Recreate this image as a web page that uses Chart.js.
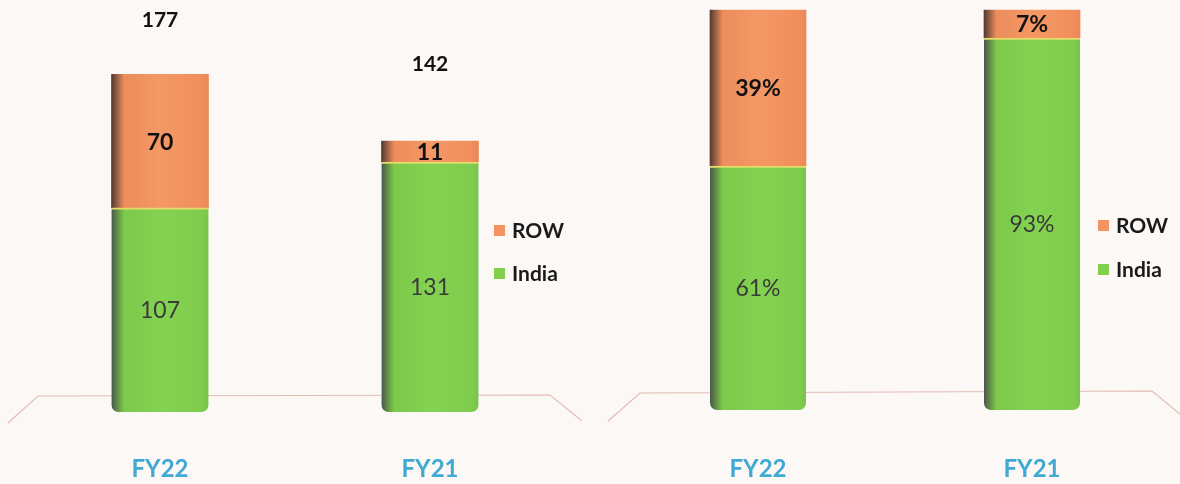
<!DOCTYPE html>
<html>
<head>
<meta charset="utf-8">
<script src="https://cdn.jsdelivr.net/npm/chart.js@4.4.0/dist/chart.umd.min.js"></script>
<style>
  html, body { margin: 0; padding: 0; background: #fbf8f6; }
  #wrap { display: flex; width: 1180px; height: 484px; }
  .box { position: relative; height: 484px; }
</style>
</head>
<body>
<div id="wrap">
  <div class="box" style="width:600px"><canvas id="graph1"></canvas></div>
  <div class="box" style="width:580px"><canvas id="graph2"></canvas></div>
</div>
<script>
// data
var years = ['FY22', 'FY21'];
var indiaValues = [107, 131];
var rowValues = [70, 11];
var totalValues = [177, 142];
var indiaShare = [61, 93];
var rowShare = [39, 7];
var seriesNames = ['ROW', 'India'];

var FONT = 'Lato, "Liberation Sans", sans-serif';
var orange = '#f39462';
var green = '#82cf4e';

// cylinder like shading across each bar
function cylinder(stops) {
  return function(c) {
    var chart = c.chart;
    if (!chart.chartArea || !chart.scales.x) return stops[2][1];
    var x = chart.scales.x.getPixelForValue(c.dataIndex);
    var w = c.dataset.barThickness;
    var g = chart.ctx.createLinearGradient(x - w / 2, 0, x + w / 2, 0);
    stops.forEach(function(s) { g.addColorStop(s[0], s[1]); });
    return g;
  };
}
var orangeStops = [[0, '#553a2e'], [0.05, '#8e5a44'], [0.13, '#ec8d5b'], [0.5, '#f49865'], [0.92, '#f18f5c'], [1, '#e98858']];
var greenStops = [[0, '#4b5850'], [0.05, '#5e8346'], [0.13, '#7cc94b'], [0.5, '#84d251'], [0.92, '#80cd4e'], [1, '#78c449']];

function makeDatasets(india, row, thick) {
  return [{
    label: 'India',
    data: india,
    backgroundColor: cylinder(greenStops),
    borderColor: '#e4dc6a',
    borderWidth: {top: 2, left: 0, right: 0, bottom: 0},
    borderSkipped: false,
    borderRadius: {topLeft: 0, topRight: 0, bottomLeft: 7, bottomRight: 7},
    barThickness: thick
  }, {
    label: 'ROW',
    data: row,
    backgroundColor: cylinder(orangeStops),
    borderWidth: 0,
    barThickness: thick
  }];
}

// floor, segment labels, totals and legend
var decor = {
  id: 'decor',
  beforeDatasetsDraw: function(chart, args, opts) {
    var ctx = chart.ctx;
    ctx.save();
    ctx.strokeStyle = '#e3bcb4';
    ctx.lineWidth = 1.2;
    ctx.beginPath();
    opts.floor.forEach(function(p, i) {
      if (i == 0) ctx.moveTo(p[0], p[1]); else ctx.lineTo(p[0], p[1]);
    });
    ctx.stroke();
    ctx.restore();
  },
  afterDatasetsDraw: function(chart, args, opts) {
    var ctx = chart.ctx;
    ctx.save();
    ctx.textAlign = 'center';
    ctx.textBaseline = 'middle';
    chart.data.datasets.forEach(function(ds, di) {
      var meta = chart.getDatasetMeta(di);
      meta.data.forEach(function(bar, i) {
        var p = bar.getProps(['x', 'y', 'base'], true);
        var isRow = ds.label == 'ROW';
        ctx.font = (isRow ? 'bold ' : '') + '23px ' + FONT;
        ctx.fillStyle = isRow ? '#111' : '#3a3a3a';
        ctx.fillText(ds.data[i] + opts.suffix, p.x, (p.y + p.base) / 2 + 1);
      });
    });
    if (opts.totals) {
      var top = chart.getDatasetMeta(chart.data.datasets.length - 1);
      ctx.font = 'bold 21px ' + FONT;
      ctx.fillStyle = '#111';
      top.data.forEach(function(bar, i) {
        ctx.fillText(opts.totals[i], bar.x, bar.y - opts.totalGap[i]);
      });
    }
    // legend
    var cols = [orange, green];
    ctx.textAlign = 'left';
    ctx.font = 'bold 21px ' + FONT;
    seriesNames.forEach(function(name, i) {
      var y = opts.legend.y + i * opts.legend.step;
      ctx.fillStyle = cols[i];
      ctx.fillRect(opts.legend.x, y - 5, 11, 11);
      ctx.fillStyle = '#1a1a1a';
      ctx.fillText(name, opts.legend.x + 18, y + 1);
    });
    ctx.restore();
  }
};

function makeChart(id, india, row, opt) {
  return new Chart(document.getElementById(id).getContext('2d'), {
    type: 'bar',
    data: { labels: years, datasets: makeDatasets(india, row, opt.thick) },
    options: {
      maintainAspectRatio: false,
      responsive: true,
      animation: false,
      layout: { padding: opt.padding },
      scales: {
        x: {
          stacked: true,
          grid: { display: false },
          border: { display: false },
          afterFit: function(scale) { scale.height = opt.axisH; },
          ticks: { color: '#3fa8d3', font: { family: FONT, size: 24, weight: 'bold' }, padding: opt.tickPad }
        },
        y: { stacked: true, display: false, min: 0, max: opt.max }
      },
      plugins: {
        legend: { display: false },
        tooltip: { enabled: false },
        decor: opt.decor
      }
    },
    plugins: [decor]
  });
}

var graph1 = makeChart('graph1', indiaValues, rowValues, {
  thick: 97, max: 216, tickPad: 35, axisH: 72,
  padding: { left: 25, right: 35, top: 0, bottom: 0 },
  decor: {
    suffix: '', totals: totalValues, totalGap: [54, 77],
    floor: [[8, 423], [38, 396], [550, 395], [582, 421]],
    legend: { x: 494, y: 230, step: 43 }
  }
});

var graph2 = makeChart('graph2', indiaShare, rowShare, {
  thick: 96, max: 102.5, tickPad: 37, axisH: 74,
  padding: { left: 21, right: 11, top: 0, bottom: 0 },
  decor: {
    suffix: '%', totals: null,
    floor: [[8, 421], [40, 393], [552, 391], [580, 414]],
    legend: { x: 498, y: 225, step: 44 }
  }
});
</script>
</body>
</html>
